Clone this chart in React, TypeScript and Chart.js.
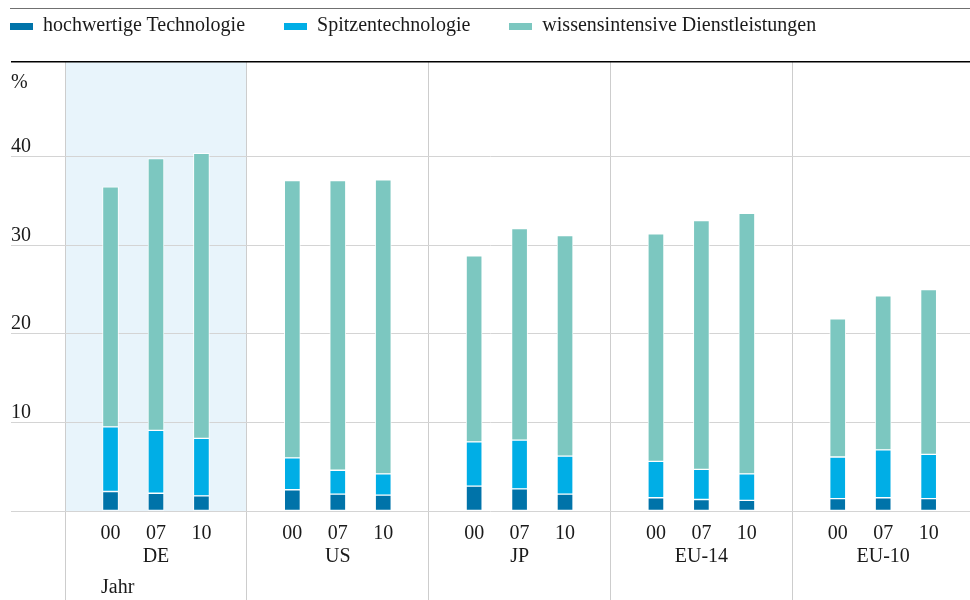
import React, { useEffect, useRef } from "react";
import { Chart, registerables } from "chart.js";

Chart.register(...registerables);

const groups = ["DE", "US", "JP", "EU-14", "EU-10"];
const years = ["00", "07", "10"];
const hochwertige = [2.2, 2.0, 1.7, 2.4, 1.9, 1.8, 2.8, 2.5, 1.9, 1.5, 1.3, 1.2, 1.4, 1.5, 1.4];
const spitzen = [7.3, 7.1, 6.5, 3.6, 2.7, 2.4, 5.0, 5.5, 4.3, 4.1, 3.4, 3.0, 4.7, 5.4, 5.0];
const wissens = [27.1, 30.7, 32.2, 31.3, 32.7, 33.2, 21.0, 23.9, 24.9, 25.7, 28.1, 29.4, 15.6, 17.4, 18.6];
const yTicks = [0, 10, 20, 30, 40];
const seriesNames = ["hochwertige Technologie", "Spitzentechnologie", "wissensintensive Dienstleistungen"];
const seriesColors = ["#0073a9", "#00aee6", "#7cc7c0"];

const FONT = "'Liberation Serif', 'Times New Roman', serif";
const Y_MAX = 50.7;
const SLOTS = 4;

function toPoints(values: number[]) {
  return values.map((v, i) => ({
    x: Math.floor(i / years.length) * SLOTS + (i % years.length) + 1,
    y: v,
  }));
}

const overlayPlugin = {
  id: "overlay",
  beforeDraw(chart: any) {
    const { ctx, chartArea, scales } = chart;
    const x0 = scales.x.getPixelForValue(0);
    const x1 = scales.x.getPixelForValue(SLOTS);
    ctx.save();
    ctx.fillStyle = "#e8f4fb";
    ctx.fillRect(x0, chartArea.top, x1 - x0, chartArea.bottom - chartArea.top);
    ctx.restore();
  },
  afterDraw(chart: any) {
    const { ctx } = chart;
    ctx.save();
    ctx.font = `20px ${FONT}`;
    ctx.fillStyle = "#1a1a1a";
    ctx.textBaseline = "alphabetic";
    ctx.textAlign = "left";
    ctx.fillText("%", 11, 88);
    ctx.fillText("Jahr", 101, 593);
    ctx.restore();
  },
};

export default function App() {
  const ref = useRef<HTMLCanvasElement | null>(null);

  useEffect(() => {
    if (!ref.current) return;
    const datasets = [hochwertige, spitzen, wissens].map((vals, k) => ({
      label: seriesNames[k],
      data: toPoints(vals),
      backgroundColor: seriesColors[k],
      borderColor: "rgba(255,255,255,0.85)",
      borderWidth: 1,
      borderSkipped: false,
      barThickness: 16,
    }));
    const chart = new Chart(ref.current, {
      type: "bar",
      data: { datasets } as any,
      plugins: [overlayPlugin],
      options: {
        animation: false,
        responsive: false,
        maintainAspectRatio: false,
        layout: { padding: { top: 62, left: 11, right: 0, bottom: 0 } },
        plugins: { legend: { display: false }, tooltip: { enabled: false } },
        scales: {
          x: {
            type: "linear",
            stacked: true,
            offset: false,
            bounds: "data",
            min: -1.19,
            max: 19.91,
            afterBuildTicks: (scale: any) => {
              const t = [];
              for (let v = 0; v < groups.length * SLOTS; v++) t.push({ value: v });
              scale.ticks = t;
            },
            afterFit: (scale: any) => {
              scale.height = 89;
            },
            border: { display: false },
            grid: {
              offset: false,
              color: (c: any) => (c.tick && c.tick.value % SLOTS === 0 ? "#cdcdcd" : "rgba(0,0,0,0)"),
              tickColor: (c: any) => (c.tick && c.tick.value % SLOTS === 0 ? "#cdcdcd" : "rgba(0,0,0,0)"),
              lineWidth: 1,
              drawTicks: true,
              tickLength: 89,
            },
            ticks: {
              autoSkip: false,
              maxRotation: 0,
              minRotation: 0,
              padding: -78,
              color: "#1a1a1a",
              font: { family: FONT, size: 20, lineHeight: 1.15 },
              callback: (value: any) => {
                const v = Number(value);
                const r = v % SLOTS;
                if (r === 0) return "";
                const yr = years[r - 1];
                if (r === 2) return [yr, groups[Math.floor(v / SLOTS)]];
                return yr;
              },
            },
          },
          y: {
            type: "linear",
            stacked: true,
            min: 0,
            max: Y_MAX,
            afterBuildTicks: (scale: any) => {
              scale.ticks = [...yTicks, Y_MAX].map((v) => ({ value: v }));
            },
            afterFit: (scale: any) => {
              scale.width = 0;
            },
            border: { display: false },
            grid: {
              color: (c: any) => (c.tick && c.tick.value === Y_MAX ? "#000000" : "#d4d4d4"),
              lineWidth: (c: any) => (c.tick && c.tick.value === Y_MAX ? 1.5 : 1),
              drawTicks: false,
            },
            ticks: {
              mirror: true,
              padding: 0,
              labelOffset: -10,
              color: "#1a1a1a",
              font: { family: FONT, size: 20 },
              callback: (value: any) => {
                const v = Number(value);
                return v === 0 || v === Y_MAX ? "" : String(v);
              },
            },
          },
        },
      } as any,
    });
    return () => chart.destroy();
  }, []);

  return (
    <div style={{ position: "absolute", left: 0, top: 0, width: 970, height: 600, background: "#ffffff", overflow: "hidden" }}>
      <canvas ref={ref} width={970} height={600} style={{ position: "absolute", left: 0, top: 0, width: 970, height: 600 }} />
      <div style={{ position: "absolute", left: 10, top: 8, width: 960, height: 1, background: "#707070" }} />
      <div style={{ position: "absolute", left: 10, top: 14, display: "flex", alignItems: "flex-start" }}>
        {seriesNames.map((n, i) => (
          <div key={n} style={{ display: "flex", alignItems: "flex-start", marginRight: 39 }}>
            <div style={{ width: 23, height: 7, marginTop: 9, marginRight: 10, background: seriesColors[i] }} />
            <span style={{ font: `20px ${FONT}`, lineHeight: "20px", color: "#1a1a1a", whiteSpace: "nowrap" }}>{n}</span>
          </div>
        ))}
      </div>
    </div>
  );
}
